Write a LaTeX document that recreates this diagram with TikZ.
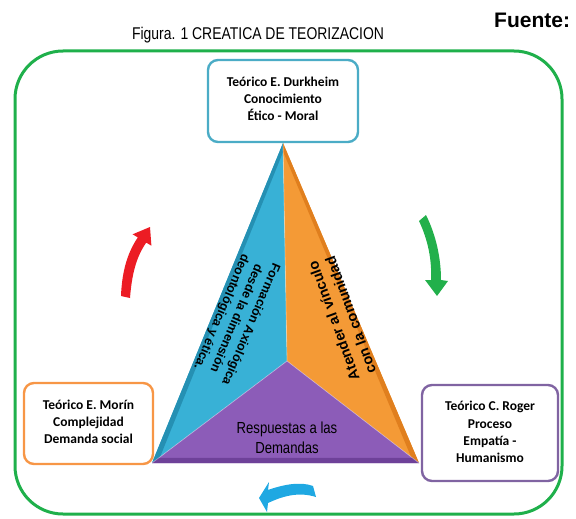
\documentclass[tikz,border=0pt]{standalone}
\usepackage{fontspec}
\usetikzlibrary{calc}
\setmainfont{Liberation Sans}
\newfontfamily\boxfont{Carlito}
\newfontfamily\narrowfont[FakeStretch=0.82]{Liberation Sans}
\begin{document}
\begin{tikzpicture}[x=1pt,y=-1pt,
  frame/.style={draw=framegreen,line width=3pt,rounded corners=48pt},
  theobox/.style={draw,line width=2.4pt,fill=white,rounded corners=10pt},
  boxtext/.style={font=\boxfont\bfseries\fontsize{13.5}{17.2}\selectfont,align=center,text=black},
  facetext/.style={font=\bfseries\fontsize{12.5}{16}\selectfont,align=center,text=black}]
\definecolor{framegreen}{HTML}{1FB04B}
\definecolor{tealb}{HTML}{4BACC6}
\definecolor{orangeb}{HTML}{F79646}
\definecolor{purpleb}{HTML}{8064A2}
\definecolor{faceblue}{HTML}{38B1D6}
\definecolor{faceblued}{HTML}{2590B3}
\definecolor{faceorange}{HTML}{F49A36}
\definecolor{faceoranged}{HTML}{E07F1E}
\definecolor{facepurple}{HTML}{8C5CB8}
\definecolor{facepurpled}{HTML}{6E4199}
\definecolor{arrred}{HTML}{EC1C24}
\definecolor{arrgreen}{HTML}{22B04B}
\definecolor{arrcyan}{HTML}{1FA8E2}
\useasboundingbox (0,0) rectangle (576,519);

% title and source
\node[font=\narrowfont\fontsize{17}{20}\selectfont] (title) at (258,35) {Figura. 1 CREATICA DE TEORIZACION};
\node[font=\bfseries\fontsize{21}{24}\selectfont,anchor=west,inner sep=0pt] (fuente) at (494,20) {Fuente:};

% outer frame
\draw[frame] (15,51) rectangle (562,514);

% triangle corners
\coordinate (apex) at (283,143);
\coordinate (bl) at (152,463);
\coordinate (br) at (419,463);
\coordinate (ctr) at (287,361);

% faces
\fill[faceblue] (apex) -- (ctr) -- (bl) -- cycle;
\fill[faceblued] (apex) -- (bl) -- ($(bl)!0.06!(ctr)$) -- ($(apex)!0.04!(ctr)$) -- cycle;
\fill[faceorange] (apex) -- (br) -- (ctr) -- cycle;
\fill[faceoranged] (apex) -- (br) -- ($(br)!0.06!(ctr)$) -- ($(apex)!0.04!(ctr)$) -- cycle;
\fill[facepurple] (bl) -- (ctr) -- (br) -- cycle;
\fill[facepurpled] (bl) -- (br) -- ($(br)!0.05!(ctr)$) -- ($(bl)!0.05!(ctr)$) -- cycle;
\draw[white,opacity=0.35,line width=0.8pt] (apex) -- (ctr) -- (bl) (ctr) -- (br);

% face texts
\node[facetext,rotate=-113] (ftxt) at (236,318) {Formación Axiológica\\desde la dimensión\\deontológica y ética.};
\node[facetext,font=\bfseries\fontsize{14.5}{18}\selectfont,rotate=110] (atxt) at (342,318) {Atender al vínculo\\con la comunidad};
\node[font=\narrowfont\fontsize{16}{20}\selectfont,align=center] (rtxt) at (287,438) {Respuestas a las\\Demandas};

% theorist boxes
\draw[theobox,draw=tealb] (208,60) rectangle (358,142);
\node[boxtext] (durk) at (283,99) {Teórico E. Durkheim\\Conocimiento\\Ético - Moral};
\draw[theobox,draw=orangeb] (24,383) rectangle (153,464);
\node[boxtext] (morin) at (88.5,422) {Teórico E. Morín\\Complejidad\\Demanda social};
\draw[theobox,draw=purpleb] (422,385) rectangle (558,481);
\node[boxtext] (roger) at (490,432) {Teórico C. Roger\\Proceso\\Empatía -\\Humanismo};

% cycle arrows
\fill[arrred] (121,296) .. controls (122,270) and (128,252) .. (137.8,237.4)
  -- (132.6,234.3) -- (150,227) -- (151.4,245.7) -- (146.2,242.6)
  .. controls (137,256) and (132,272) .. (130,298) -- cycle;
\fill[arrgreen] (419,221) .. controls (428,240) and (432,260) .. (431,280)
  -- (425,280) -- (437,296) -- (448,281) -- (441,280)
  .. controls (441,258) and (436,235) .. (426,215) -- cycle;
\fill[arrcyan] (268,490) .. controls (282,485) and (300,481) .. (313,486)
  -- (316,497) .. controls (300,492) and (285,495) .. (268,503)
  -- (267,512) -- (259,498) -- (269,482) -- cycle;
\end{tikzpicture}
\end{document}
